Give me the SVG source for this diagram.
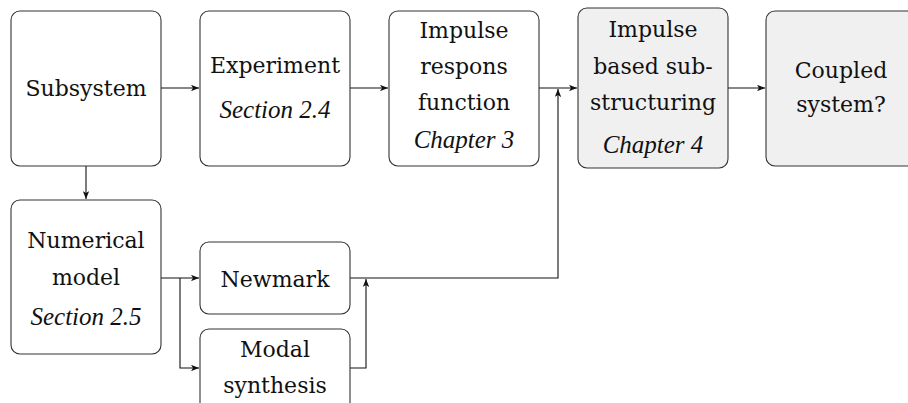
<svg xmlns="http://www.w3.org/2000/svg" width="908" height="403" viewBox="0 0 908 403">
<style>
.box{fill:#fff;stroke:#333;stroke-width:1.1}
.gray{fill:#f0f0f0}
.t{font-family:"DejaVu Serif","Liberation Serif",serif;font-size:22px;fill:#111;text-anchor:middle}
.i{font-family:"Liberation Serif","DejaVu Serif",serif;font-style:italic;font-size:25px;fill:#111;text-anchor:middle}
.c{fill:none;stroke:#111;stroke-width:1.1}
</style>
<defs>
<marker id="ah" viewBox="0 0 10 8" refX="10" refY="4" markerWidth="8" markerHeight="6.4" markerUnits="userSpaceOnUse" orient="auto">
<path d="M0,0 L10,4 L0,8 L2.5,4 Z" fill="#111"/>
</marker>
</defs>
<rect width="908" height="403" fill="#fff"/>
<g id="connectors">
<path class="c" d="M161,88 H199" marker-end="url(#ah)"/>
<path class="c" d="M350,88 H388" marker-end="url(#ah)"/>
<path class="c" d="M539,88 H577" marker-end="url(#ah)"/>
<path class="c" d="M728,88 H765" marker-end="url(#ah)"/>
<path class="c" d="M86,166 V199" marker-end="url(#ah)"/>
<path class="c" d="M161,278 H199" marker-end="url(#ah)"/>
<path class="c" d="M180,278 V368 H199" marker-end="url(#ah)"/>
<path class="c" d="M350,368 H366 V279" marker-end="url(#ah)"/>
<path class="c" d="M350,278 H558 V89" marker-end="url(#ah)"/>
</g>
<g id="subsystem">
<rect class="box" x="11" y="11" width="150" height="155" rx="9"/>
<text class="t" x="86" y="96">Subsystem</text>
</g>
<g id="experiment">
<rect class="box" x="200" y="11" width="150" height="155" rx="9"/>
<text class="t" x="275" y="73">Experiment</text>
<text class="i" x="275" y="118">Section 2.4</text>
</g>
<g id="irf">
<rect class="box" x="389" y="11" width="150" height="155" rx="9"/>
<text class="t" x="464" y="38">Impulse</text>
<text class="t" x="464" y="74">respons</text>
<text class="t" x="464" y="110">function</text>
<text class="i" x="464" y="148">Chapter 3</text>
</g>
<g id="ibs">
<rect class="box gray" x="578" y="8" width="150" height="160" rx="9"/>
<text class="t" x="653" y="37">Impulse</text>
<text class="t" x="653" y="74">based sub-</text>
<text class="t" x="653" y="110">structuring</text>
<text class="i" x="653" y="153">Chapter 4</text>
</g>
<g id="coupled">
<rect class="box gray" x="766" y="11" width="150" height="155" rx="9"/>
<text class="t" x="841" y="78">Coupled</text>
<text class="t" x="841" y="112">system?</text>
</g>
<g id="numerical">
<rect class="box" x="11" y="200" width="150" height="154" rx="9"/>
<text class="t" x="86" y="248">Numerical</text>
<text class="t" x="86" y="285">model</text>
<text class="i" x="86" y="325">Section 2.5</text>
</g>
<g id="newmark">
<rect class="box" x="200" y="242" width="150" height="72" rx="9"/>
<text class="t" x="275" y="287">Newmark</text>
</g>
<g id="modal">
<rect class="box" x="200" y="329" width="150" height="90" rx="9"/>
<text class="t" x="275" y="357">Modal</text>
<text class="t" x="275" y="393">synthesis</text>
</g>
</svg>
